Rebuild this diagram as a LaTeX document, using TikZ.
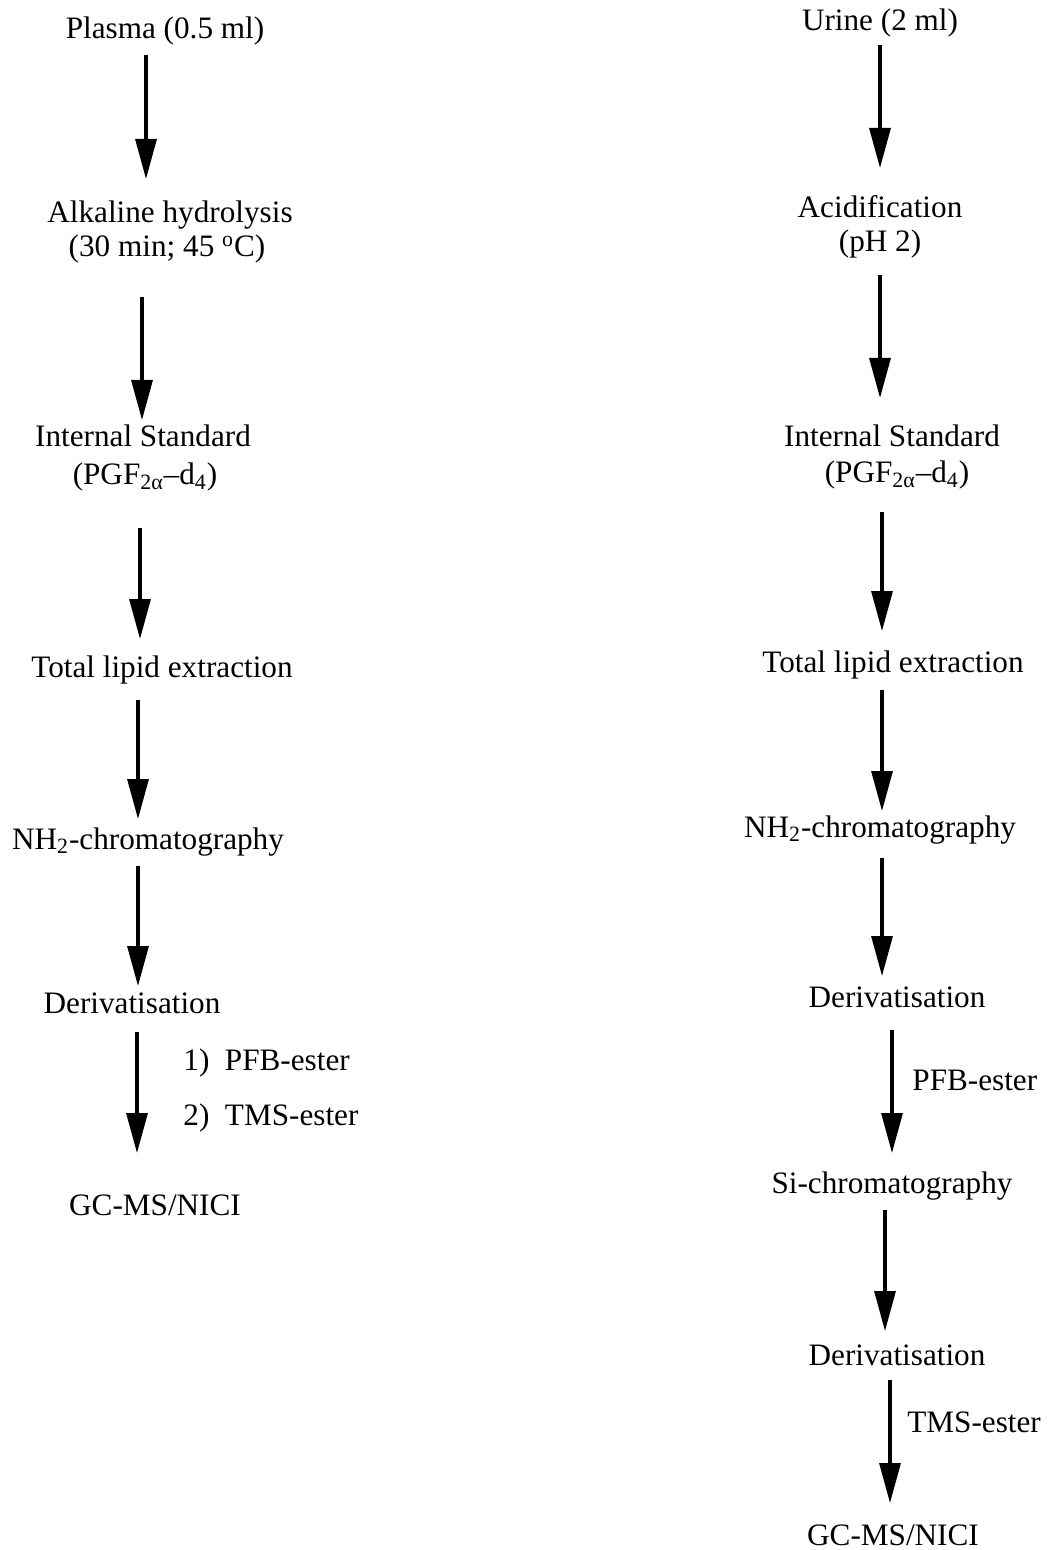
\documentclass[tikz,border=0pt]{standalone}
\usepackage{fontspec}
\setmainfont{Liberation Serif}
\usetikzlibrary{arrows.meta}
\begin{document}
\begin{tikzpicture}[x=0.5pt,y=-0.5pt,
  lbl/.style={anchor=base,inner sep=0pt,font=\fontsize{15.6}{18}\selectfont},
  side/.style={anchor=base west,inner sep=0pt,font=\fontsize{15.6}{18}\selectfont},
  arr/.style={line width=1.6pt,-{Triangle[length=20pt,width=10.5pt]}}]
\useasboundingbox (0,0) rectangle (1050,1550);
% left column
\node[lbl] (l1) at (165,39) {Plasma (0.5 ml)};
\node[lbl] (l2a) at (170,223) {Alkaline hydrolysis};
\node[lbl] (l2b) at (167,257) {(30 min; 45 \textsuperscript{o}C)};
\node[lbl] (l3a) at (143,447) {Internal Standard};
\node[lbl] (l3b) at (145,485) {(PGF\textsubscript{2α}–d\textsubscript{4})};
\node[lbl] (l4) at (162,677) {Total lipid extraction};
\node[lbl] (l5) at (148,849) {NH\textsubscript{2}-chromatography};
\node[lbl] (l6) at (132,1013) {Derivatisation};
\node[side] (l6a) at (183,1070) {1)\ \ PFB-ester};
\node[side] (l6b) at (183,1125) {2)\ \ TMS-ester};
\node[lbl] (l7) at (155,1215) {GC-MS/NICI};
% right column
\node[lbl] (r1) at (880,31) {Urine (2 ml)};
\node[lbl] (r2a) at (880,218) {Acidification};
\node[lbl] (r2b) at (880,252) {(pH 2)};
\node[lbl] (r3a) at (892,447) {Internal Standard};
\node[lbl] (r3b) at (897,483) {(PGF\textsubscript{2α}–d\textsubscript{4})};
\node[lbl] (r4) at (893,672) {Total lipid extraction};
\node[lbl] (r5) at (880,837) {NH\textsubscript{2}-chromatography};
\node[lbl] (r6) at (897,1007) {Derivatisation};
\node[side] (r6a) at (912,1090) {PFB-ester};
\node[lbl] (r7) at (892,1193) {Si-chromatography};
\node[lbl] (r8) at (897,1365) {Derivatisation};
\node[side] (r8a) at (907,1432) {TMS-ester};
\node[lbl] (r9) at (893,1545) {GC-MS/NICI};
% arrow end points
\coordinate (la1) at (146,55);   \coordinate (lb1) at (146,179);
\coordinate (la2) at (142,297);  \coordinate (lb2) at (142,420);
\coordinate (la3) at (140,528);  \coordinate (lb3) at (140,639);
\coordinate (la4) at (138,700);  \coordinate (lb4) at (138,819);
\coordinate (la5) at (138,866);  \coordinate (lb5) at (138,986);
\coordinate (la6) at (137,1032); \coordinate (lb6) at (137,1153);
\coordinate (ra1) at (880,45);   \coordinate (rb1) at (880,168);
\coordinate (ra2) at (880,275);  \coordinate (rb2) at (880,398);
\coordinate (ra3) at (882,512);  \coordinate (rb3) at (882,631);
\coordinate (ra4) at (882,690);  \coordinate (rb4) at (882,811);
\coordinate (ra5) at (882,858);  \coordinate (rb5) at (882,976);
\coordinate (ra6) at (892,1030); \coordinate (rb6) at (892,1153);
\coordinate (ra7) at (885,1210); \coordinate (rb7) at (885,1331);
\coordinate (ra8) at (890,1380); \coordinate (rb8) at (890,1503);
\foreach \i in {1,...,6} {\draw[arr] (la\i) -- (lb\i);}
\foreach \i in {1,...,8} {\draw[arr] (ra\i) -- (rb\i);}
\end{tikzpicture}
\end{document}
